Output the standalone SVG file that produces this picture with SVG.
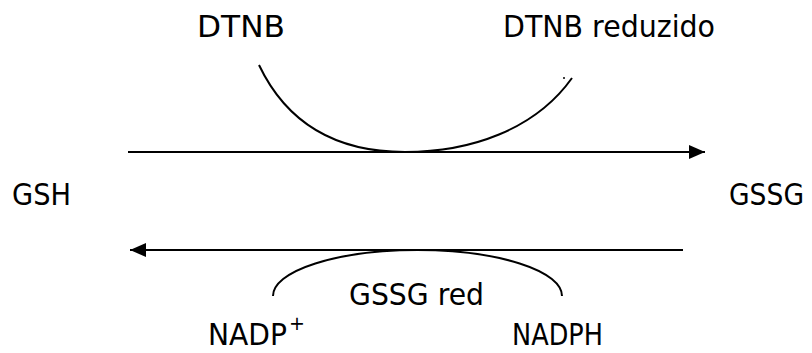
<svg xmlns="http://www.w3.org/2000/svg" width="812" height="353" viewBox="0 0 812 353">
<defs>
<style>
.t{font-family:"DejaVu Sans","Liberation Sans",sans-serif;font-size:30px;fill:#000}
.s{font-family:"DejaVu Sans","Liberation Sans",sans-serif;font-size:19px;fill:#000}
.c{fill:none;stroke:#000;stroke-width:2}
</style>
<marker id="ah" viewBox="0 0 16 14" refX="16" refY="7" markerWidth="16" markerHeight="14" markerUnits="userSpaceOnUse" orient="auto">
<path d="M0,0 L16,7 L0,14 Z" fill="#000"/>
</marker>
</defs>
<rect width="812" height="353" fill="#fff"/>
<g id="connectors">
<line class="c" x1="128" y1="152" x2="705" y2="152" marker-end="url(#ah)"/>
<line class="c" x1="683" y1="250" x2="130" y2="250" marker-end="url(#ah)"/>
<path class="c" d="M259,65 C290,130 345,152 405,152 C470,152 535,130 572,78"/>
<circle cx="564" cy="78" r="1" fill="#000"/>
<path class="c" d="M273,296 A144.5,46 0 0 1 562,296"/>
</g>
<g id="dtnb"><text class="t" x="197" y="37" textLength="88" lengthAdjust="spacingAndGlyphs">DTNB</text></g>
<g id="dtnb-reduzido"><text class="t" x="503" y="37" textLength="212" lengthAdjust="spacingAndGlyphs">DTNB reduzido</text></g>
<g id="gsh"><text class="t" x="12" y="205" textLength="59" lengthAdjust="spacingAndGlyphs">GSH</text></g>
<g id="gssg"><text class="t" x="729" y="205" textLength="75" lengthAdjust="spacingAndGlyphs">GSSG</text></g>
<g id="gssg-red"><text class="t" x="349" y="305" textLength="135" lengthAdjust="spacingAndGlyphs">GSSG red</text></g>
<g id="nadp"><text class="t" x="208" y="345" textLength="79" lengthAdjust="spacingAndGlyphs">NADP</text><text class="s" x="289" y="330">+</text></g>
<g id="nadph"><text class="t" x="512" y="345" textLength="91" lengthAdjust="spacingAndGlyphs">NADPH</text></g>
</svg>
